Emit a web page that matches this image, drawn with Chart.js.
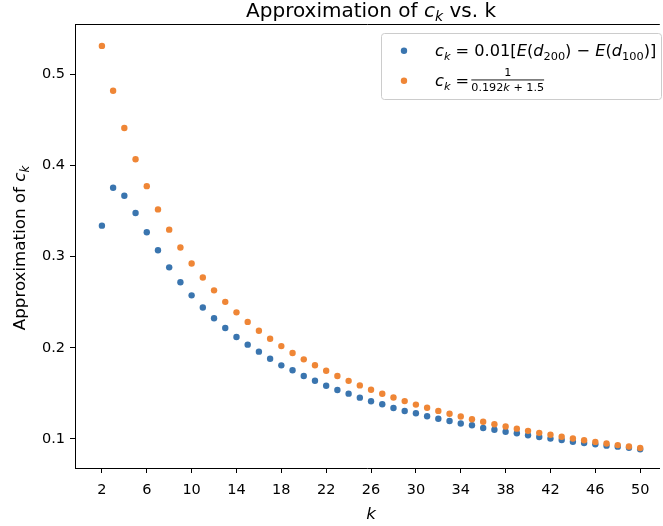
<!DOCTYPE html>
<html><head><meta charset="utf-8">
<script src="https://cdn.jsdelivr.net/npm/chart.js@4/dist/chart.umd.min.js"></script>
<style>html,body{margin:0;padding:0;background:#fff}canvas{display:block}</style>
</head><body>
<canvas id="c" width="663" height="526"></canvas>
<script>
const kValues = [2,3,4,5,6,7,8,9,10,11,12,13,14,15,16,17,18,19,20,21,22,23,24,25,26,27,28,29,30,31,32,33,34,35,36,37,38,39,40,41,42,43,44,45,46,47,48,49,50];
const empiricalCk = [0.3338,0.3754,0.3666,0.3477,0.3265,0.3068,0.2881,0.2717,0.2574,0.2441,0.2323,0.2216,0.2118,0.2034,0.1957,0.1880,0.1807,0.1753,0.1690,0.1639,0.1584,0.1537,0.1497,0.1453,0.1413,0.1380,0.1340,0.1307,0.1282,0.1249,0.1221,0.1197,0.1170,0.1150,0.1121,0.1102,0.1080,0.1063,0.1041,0.1022,0.1004,0.0989,0.0970,0.0956,0.0942,0.0927,0.0916,0.0903,0.0888];
const fittedCk = [0.5308,0.4817,0.4409,0.4065,0.3771,0.3516,0.3294,0.3098,0.2924,0.2769,0.2629,0.2503,0.2388,0.2283,0.2187,0.2099,0.2018,0.1943,0.1873,0.1808,0.1747,0.1690,0.1637,0.1587,0.1540,0.1496,0.1454,0.1415,0.1377,0.1342,0.1308,0.1276,0.1246,0.1217,0.1189,0.1162,0.1137,0.1113,0.1089,0.1067,0.1046,0.1025,0.1005,0.0986,0.0968,0.0950,0.0933,0.0917,0.0901];
const xTickValues = [2,6,10,14,18,22,26,30,34,38,42,46,50];
const yTickValues = [0.1,0.2,0.3,0.4,0.5];
const titleText = 'Approximation of c_k vs. k';
const xLabelText = 'k';
const yLabelText = 'Approximation of c_k';
const seriesLabels = ['c_k = 0.01[E(d_200) − E(d_100)]', 'c_k = 1/(0.192k + 1.5)'];

const BLUE = '#3a75af';
const ORANGE = '#ef8636';
const FAM = '"DejaVu Sans", sans-serif';

function setFont(ctx, size, it){ ctx.font = (it ? 'italic ' : '') + size + 'px ' + FAM; }
function runsWidth(ctx, runs, size){
  let w = 0;
  for (const r of runs){ const s = r.sub ? size*0.7 : size; setFont(ctx, s, r.it); w += (r.gap||0) + ctx.measureText(r.t).width; }
  return w;
}
function drawRuns(ctx, x, y, runs, size){
  for (const r of runs){
    const s = r.sub ? size*0.7 : size;
    setFont(ctx, s, r.it);
    x += (r.gap||0);
    ctx.fillText(r.t, x, y + (r.sub ? size*0.22 : 0));
    x += ctx.measureText(r.t).width;
  }
  return x;
}

const decor = {
  id:'decor',
  afterDraw(chart){
    const ctx = chart.ctx, a = chart.chartArea;
    const xs = chart.scales.x;
    ctx.save();
    ctx.strokeStyle = '#000'; ctx.lineWidth = 1;
    ctx.beginPath(); ctx.moveTo(a.left, a.top + 0.5); ctx.lineTo(a.right, a.top + 0.5); ctx.stroke();
    ctx.fillStyle = '#000'; ctx.textBaseline = 'alphabetic'; ctx.textAlign = 'left';
    const cx = xs.getPixelForValue(26);
    const tRuns = [{t:'Approximation of '},{t:'c',it:true},{t:'k',it:true,sub:true},{t:' vs. k'}];
    const tSize = 20;
    const tw = runsWidth(ctx, tRuns, tSize);
    drawRuns(ctx, cx - tw/2, 16.5, tRuns, tSize);
    const xRuns = [{t:xLabelText,it:true}];
    const xw = runsWidth(ctx, xRuns, 16.7);
    drawRuns(ctx, cx - xw/2, 519, xRuns, 16.7);
    const yRuns = [{t:'Approximation of '},{t:'c',it:true},{t:'k',it:true,sub:true}];
    const yw = runsWidth(ctx, yRuns, 16.7);
    ctx.save();
    ctx.translate(25, (a.top + a.bottom)/2 + 2);
    ctx.rotate(-Math.PI/2);
    drawRuns(ctx, -yw/2, 0, yRuns, 16.7);
    ctx.restore();
    const bx = 381.5, by = 33.5, bw = 280, bh = 66;
    ctx.fillStyle = 'rgba(255,255,255,0.8)';
    ctx.strokeStyle = '#cccccc'; ctx.lineWidth = 1;
    ctx.beginPath(); ctx.roundRect(bx, by, bw, bh, 3); ctx.fill(); ctx.stroke();
    const r = chart.data.datasets[0].pointRadius;
    ctx.fillStyle = BLUE; ctx.beginPath(); ctx.arc(404, 50.7, r, 0, Math.PI*2); ctx.fill();
    ctx.fillStyle = ORANGE; ctx.beginPath(); ctx.arc(404, 80.7, r, 0, Math.PI*2); ctx.fill();
    ctx.fillStyle = '#000';
    const L = 16.2;
    const l1 = [{t:'c',it:true},{t:'k',it:true,sub:true},{t:' = '},{t:'0.01['},{t:'E',it:true},{t:'('},{t:'d',it:true},{t:'200',sub:true},{t:') − '},{t:'E',it:true},{t:'('},{t:'d',it:true},{t:'100',sub:true},{t:')]'}];
    drawRuns(ctx, 435, 56, l1, L);
    const l2 = [{t:'c',it:true},{t:'k',it:true,sub:true},{t:' = '}];
    const fx = drawRuns(ctx, 435, 86, l2, L) - 3;
    const fs = 11.2;
    const den = [{t:'0.192'},{t:'k',it:true},{t:' + 1.5'}];
    const dw = runsWidth(ctx, den, fs);
    setFont(ctx, fs, false);
    const nw = ctx.measureText('1').width;
    ctx.fillText('1', fx + dw/2 - nw/2, 76);
    ctx.fillRect(fx, 79.5, dw, 0.9);
    drawRuns(ctx, fx, 90.5, den, fs);
    ctx.restore();
  }
};

const mk = vals => kValues.map((k,i)=>({x:k, y:vals[i]}));
new Chart(document.getElementById('c').getContext('2d'), {
  type:'scatter',
  data:{datasets:[
    {label:seriesLabels[0], data:mk(empiricalCk), backgroundColor:BLUE, borderWidth:0, pointRadius:3.2, pointHoverRadius:3.2, order:1},
    {label:seriesLabels[1], data:mk(fittedCk), backgroundColor:ORANGE, borderWidth:0, pointRadius:3.2, pointHoverRadius:3.2, order:0}
  ]},
  options:{
    responsive:false, animation:false, devicePixelRatio:1,
    layout:{padding:{top:24,left:0,right:0,bottom:0}},
    plugins:{legend:{display:false}, title:{display:false}, tooltip:{enabled:false}},
    events:[],
    scales:{
      x:{type:'linear', min:-0.4, max:51.75,
        afterBuildTicks:s=>{ s.ticks = xTickValues.map(v=>({value:v})); },
        afterFit:s=>{ s.height = 58; },
        grid:{drawOnChartArea:false, drawTicks:true, tickLength:5, tickColor:'#000', tickWidth:1},
        border:{display:true, color:'#000', width:1},
        ticks:{color:'#000', font:{family:'DejaVu Sans', size:14.5}, padding:9, maxRotation:0, autoSkip:false, callback:v=>String(v)}
      },
      y:{type:'linear', min:0.0682, max:0.5548,
        afterBuildTicks:s=>{ s.ticks = yTickValues.map(v=>({value:v})); },
        afterFit:s=>{ s.width = 75; },
        grid:{drawOnChartArea:false, drawTicks:true, tickLength:5, tickColor:'#000', tickWidth:1},
        border:{display:true, color:'#000', width:1},
        ticks:{color:'#000', font:{family:'DejaVu Sans', size:14.5}, padding:5, autoSkip:false, callback:v=>v.toFixed(1)}
      }
    }
  },
  plugins:[decor]
});
</script>
</body></html>
